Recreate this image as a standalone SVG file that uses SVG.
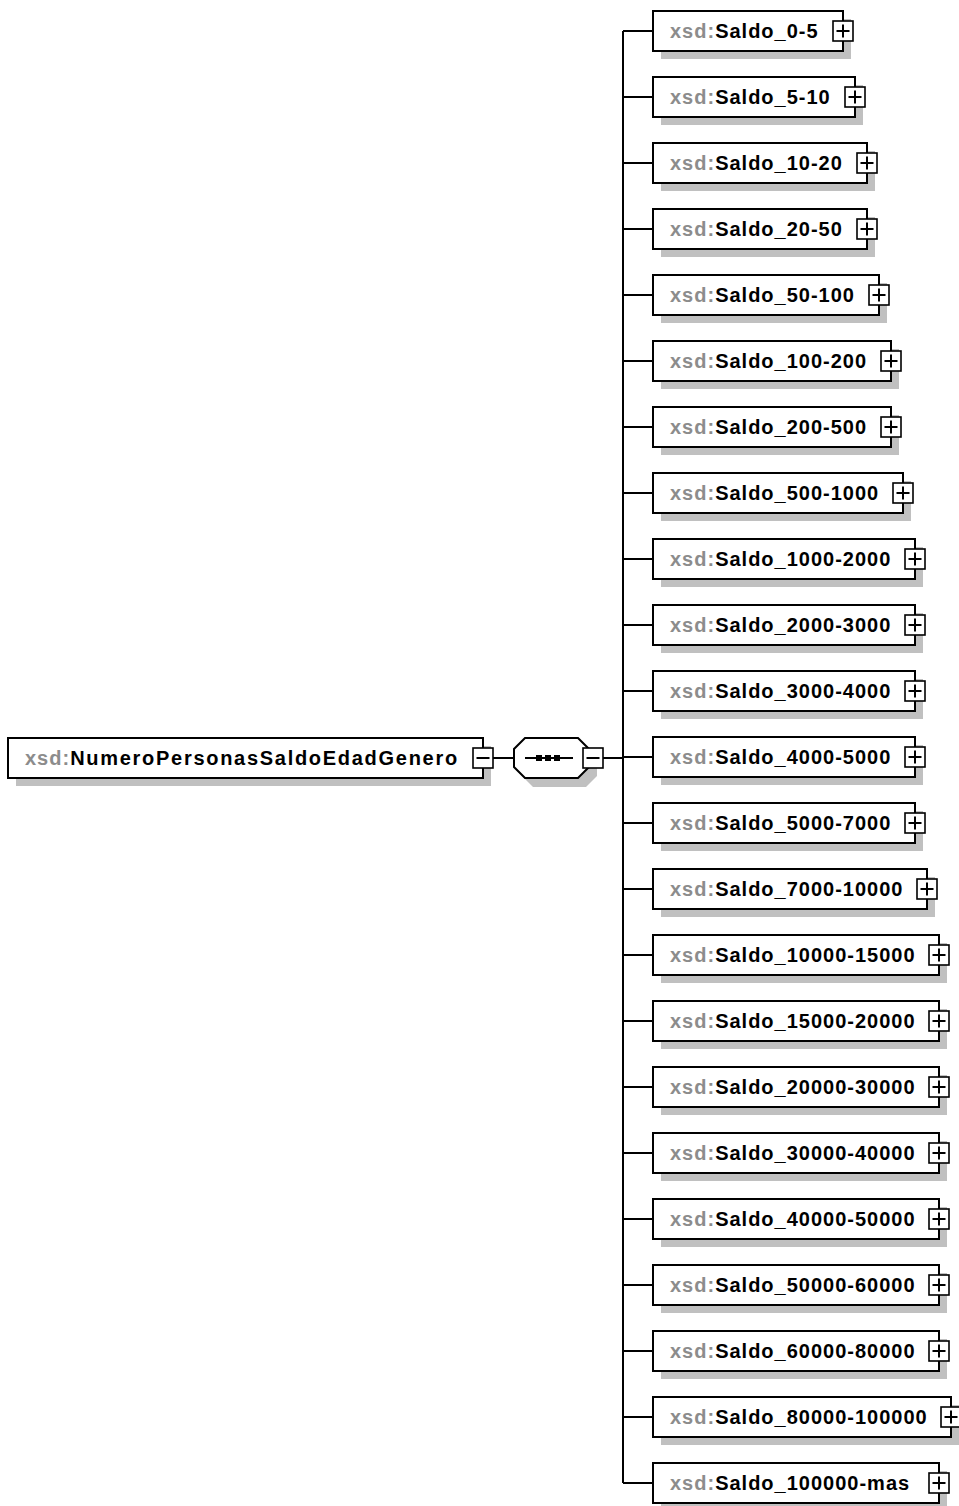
<svg xmlns="http://www.w3.org/2000/svg" width="959" height="1506" viewBox="0 0 959 1506">
<style>
.box{fill:#fff;stroke:#000;stroke-width:2}
.sh{fill:#c0c0c0}
.ic{fill:#fff;stroke:#000;stroke-width:1.6}
.ln{stroke:#000;stroke-width:2;fill:none}
.t{font-family:"Liberation Sans",Arial,sans-serif;font-size:20px;letter-spacing:1px;font-weight:bold}
.p{fill:#8c8c8c}
.n{fill:#000}
</style>
<defs>
<g id="plus"><rect class="ic" x="-10" y="-10" width="20" height="20"/><path class="ln" stroke-width="1.6" d="M-6.5 0H6.5M0 -6.5V6.5"/></g>
<g id="minus"><rect class="ic" x="-10" y="-10" width="20" height="20"/><path class="ln" stroke-width="1.6" d="M-6.5 0H6.5"/></g>
</defs>
<g id="connectors">
<path class="ln" d="M493 758H514M603 758H623M623 31V1483"/>
<path class="ln" d="M623 31H653M623 97H653M623 163H653M623 229H653M623 295H653M623 361H653M623 427H653M623 493H653M623 559H653M623 625H653M623 691H653M623 757H653M623 823H653M623 889H653M623 955H653M623 1021H653M623 1087H653M623 1153H653M623 1219H653M623 1285H653M623 1351H653M623 1417H653M623 1483H653"/>
</g>
<g id="root">
<rect class="sh" x="16" y="746" width="475" height="40"/>
<rect class="box" x="8" y="738" width="475" height="40"/>
<text class="t" x="25" y="765"><tspan class="p">xsd:</tspan><tspan class="n" textLength="388" lengthAdjust="spacing">NumeroPersonasSaldoEdadGenero</tspan></text>
<use href="#minus" x="483" y="758"/>
</g>
<g id="sequence">
<path class="sh" d="M533 746H586L597 757V776L586 787H533L522 776V757Z"/>
<path class="box" d="M525 738H578L589 749V767L578 778H525L514 767V749Z"/>
<path class="ln" d="M525 758H573"/>
<rect x="536" y="755" width="6" height="6"/><rect x="545" y="755" width="6" height="6"/><rect x="554" y="755" width="6" height="6"/>
<use href="#minus" x="593" y="758"/>
</g>
<g id="n1"><rect class="sh" x="661" y="19" width="190" height="40"/><rect class="box" x="653" y="11" width="190" height="40"/><text class="t" x="670" y="38"><tspan class="p">xsd:</tspan><tspan class="n">Saldo_0-5</tspan></text><use href="#plus" x="843" y="31"/></g>
<g id="n2"><rect class="sh" x="661" y="85" width="202" height="40"/><rect class="box" x="653" y="77" width="202" height="40"/><text class="t" x="670" y="104"><tspan class="p">xsd:</tspan><tspan class="n">Saldo_5-10</tspan></text><use href="#plus" x="855" y="97"/></g>
<g id="n3"><rect class="sh" x="661" y="151" width="214" height="40"/><rect class="box" x="653" y="143" width="214" height="40"/><text class="t" x="670" y="170"><tspan class="p">xsd:</tspan><tspan class="n">Saldo_10-20</tspan></text><use href="#plus" x="867" y="163"/></g>
<g id="n4"><rect class="sh" x="661" y="217" width="214" height="40"/><rect class="box" x="653" y="209" width="214" height="40"/><text class="t" x="670" y="236"><tspan class="p">xsd:</tspan><tspan class="n">Saldo_20-50</tspan></text><use href="#plus" x="867" y="229"/></g>
<g id="n5"><rect class="sh" x="661" y="283" width="226" height="40"/><rect class="box" x="653" y="275" width="226" height="40"/><text class="t" x="670" y="302"><tspan class="p">xsd:</tspan><tspan class="n">Saldo_50-100</tspan></text><use href="#plus" x="879" y="295"/></g>
<g id="n6"><rect class="sh" x="661" y="349" width="238" height="40"/><rect class="box" x="653" y="341" width="238" height="40"/><text class="t" x="670" y="368"><tspan class="p">xsd:</tspan><tspan class="n">Saldo_100-200</tspan></text><use href="#plus" x="891" y="361"/></g>
<g id="n7"><rect class="sh" x="661" y="415" width="238" height="40"/><rect class="box" x="653" y="407" width="238" height="40"/><text class="t" x="670" y="434"><tspan class="p">xsd:</tspan><tspan class="n">Saldo_200-500</tspan></text><use href="#plus" x="891" y="427"/></g>
<g id="n8"><rect class="sh" x="661" y="481" width="250" height="40"/><rect class="box" x="653" y="473" width="250" height="40"/><text class="t" x="670" y="500"><tspan class="p">xsd:</tspan><tspan class="n">Saldo_500-1000</tspan></text><use href="#plus" x="903" y="493"/></g>
<g id="n9"><rect class="sh" x="661" y="547" width="262" height="40"/><rect class="box" x="653" y="539" width="262" height="40"/><text class="t" x="670" y="566"><tspan class="p">xsd:</tspan><tspan class="n">Saldo_1000-2000</tspan></text><use href="#plus" x="915" y="559"/></g>
<g id="n10"><rect class="sh" x="661" y="613" width="262" height="40"/><rect class="box" x="653" y="605" width="262" height="40"/><text class="t" x="670" y="632"><tspan class="p">xsd:</tspan><tspan class="n">Saldo_2000-3000</tspan></text><use href="#plus" x="915" y="625"/></g>
<g id="n11"><rect class="sh" x="661" y="679" width="262" height="40"/><rect class="box" x="653" y="671" width="262" height="40"/><text class="t" x="670" y="698"><tspan class="p">xsd:</tspan><tspan class="n">Saldo_3000-4000</tspan></text><use href="#plus" x="915" y="691"/></g>
<g id="n12"><rect class="sh" x="661" y="745" width="262" height="40"/><rect class="box" x="653" y="737" width="262" height="40"/><text class="t" x="670" y="764"><tspan class="p">xsd:</tspan><tspan class="n">Saldo_4000-5000</tspan></text><use href="#plus" x="915" y="757"/></g>
<g id="n13"><rect class="sh" x="661" y="811" width="262" height="40"/><rect class="box" x="653" y="803" width="262" height="40"/><text class="t" x="670" y="830"><tspan class="p">xsd:</tspan><tspan class="n">Saldo_5000-7000</tspan></text><use href="#plus" x="915" y="823"/></g>
<g id="n14"><rect class="sh" x="661" y="877" width="274" height="40"/><rect class="box" x="653" y="869" width="274" height="40"/><text class="t" x="670" y="896"><tspan class="p">xsd:</tspan><tspan class="n">Saldo_7000-10000</tspan></text><use href="#plus" x="927" y="889"/></g>
<g id="n15"><rect class="sh" x="661" y="943" width="286" height="40"/><rect class="box" x="653" y="935" width="286" height="40"/><text class="t" x="670" y="962"><tspan class="p">xsd:</tspan><tspan class="n">Saldo_10000-15000</tspan></text><use href="#plus" x="939" y="955"/></g>
<g id="n16"><rect class="sh" x="661" y="1009" width="286" height="40"/><rect class="box" x="653" y="1001" width="286" height="40"/><text class="t" x="670" y="1028"><tspan class="p">xsd:</tspan><tspan class="n">Saldo_15000-20000</tspan></text><use href="#plus" x="939" y="1021"/></g>
<g id="n17"><rect class="sh" x="661" y="1075" width="286" height="40"/><rect class="box" x="653" y="1067" width="286" height="40"/><text class="t" x="670" y="1094"><tspan class="p">xsd:</tspan><tspan class="n">Saldo_20000-30000</tspan></text><use href="#plus" x="939" y="1087"/></g>
<g id="n18"><rect class="sh" x="661" y="1141" width="286" height="40"/><rect class="box" x="653" y="1133" width="286" height="40"/><text class="t" x="670" y="1160"><tspan class="p">xsd:</tspan><tspan class="n">Saldo_30000-40000</tspan></text><use href="#plus" x="939" y="1153"/></g>
<g id="n19"><rect class="sh" x="661" y="1207" width="286" height="40"/><rect class="box" x="653" y="1199" width="286" height="40"/><text class="t" x="670" y="1226"><tspan class="p">xsd:</tspan><tspan class="n">Saldo_40000-50000</tspan></text><use href="#plus" x="939" y="1219"/></g>
<g id="n20"><rect class="sh" x="661" y="1273" width="286" height="40"/><rect class="box" x="653" y="1265" width="286" height="40"/><text class="t" x="670" y="1292"><tspan class="p">xsd:</tspan><tspan class="n">Saldo_50000-60000</tspan></text><use href="#plus" x="939" y="1285"/></g>
<g id="n21"><rect class="sh" x="661" y="1339" width="286" height="40"/><rect class="box" x="653" y="1331" width="286" height="40"/><text class="t" x="670" y="1358"><tspan class="p">xsd:</tspan><tspan class="n">Saldo_60000-80000</tspan></text><use href="#plus" x="939" y="1351"/></g>
<g id="n22"><rect class="sh" x="661" y="1405" width="298" height="40"/><rect class="box" x="653" y="1397" width="298" height="40"/><text class="t" x="670" y="1424"><tspan class="p">xsd:</tspan><tspan class="n">Saldo_80000-100000</tspan></text><use href="#plus" x="951" y="1417"/></g>
<g id="n23"><rect class="sh" x="661" y="1471" width="286" height="40"/><rect class="box" x="653" y="1463" width="286" height="40"/><text class="t" x="670" y="1490"><tspan class="p">xsd:</tspan><tspan class="n">Saldo_100000-mas</tspan></text><use href="#plus" x="939" y="1483"/></g>
</svg>
